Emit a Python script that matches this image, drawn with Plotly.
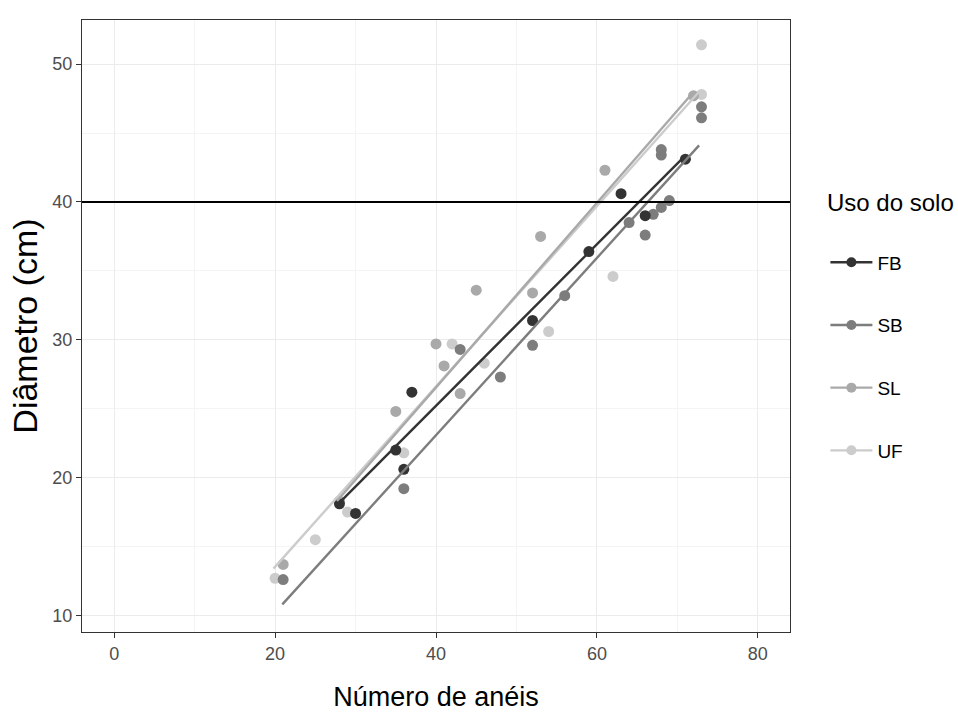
import plotly.graph_objects as go

# ---- data ----
groups = ["FB", "SB", "SL", "UF"]
colors = {"FB": "#333333", "SB": "#7d7d7d", "SL": "#a9a9a9", "UF": "#cccccc"}

fb_x = [28, 30, 35, 36, 37, 52, 59, 63, 66, 71]
fb_y = [18.1, 17.4, 22.0, 20.6, 26.2, 31.4, 36.4, 40.6, 39.0, 43.1]

sb_x = [21, 36, 43, 48, 52, 56, 64, 66, 67, 68, 69, 68, 68, 73, 73]
sb_y = [12.6, 19.2, 29.3, 27.3, 29.6, 33.2, 38.5, 37.6, 39.1, 39.6, 40.1, 43.4, 43.8, 46.9, 46.1]

sl_x = [21, 28, 35, 40, 41, 43, 45, 52, 53, 61, 72]
sl_y = [13.7, 18.3, 24.8, 29.7, 28.1, 26.1, 33.6, 33.4, 37.5, 42.3, 47.7]

uf_x = [20, 25, 29, 36, 42, 46, 54, 62, 73, 73]
uf_y = [12.7, 15.5, 17.5, 21.8, 29.7, 28.3, 30.6, 34.6, 51.4, 47.8]

# fitted-line end points
fb_fit_x = [27.7, 70.7]
fb_fit_y = [18.0, 43.2]
sb_fit_x = [20.9, 72.7]
sb_fit_y = [10.8, 44.1]
sl_fit_x = [27.7, 71.6]
sl_fit_y = [18.3, 47.7]
uf_fit_x = [19.8, 72.7]
uf_fit_y = [13.4, 48.0]

ref_y = 40

x_ticks = [0, 20, 40, 60, 80]
y_ticks = [10, 20, 30, 40, 50]

legend_title = "Uso do solo"
x_title = "Número de anéis"
y_title = "Diâmetro (cm)"

points = {"FB": (fb_x, fb_y), "SB": (sb_x, sb_y), "SL": (sl_x, sl_y), "UF": (uf_x, uf_y)}
fits = {"FB": (fb_fit_x, fb_fit_y), "SB": (sb_fit_x, sb_fit_y),
        "SL": (sl_fit_x, sl_fit_y), "UF": (uf_fit_x, uf_fit_y)}

FONT = "Liberation Sans, Arial, sans-serif"

fig = go.Figure()

for g in ["UF", "SL", "SB", "FB"]:
    x, y = points[g]
    fig.add_trace(go.Scatter(x=x, y=y, mode="markers", showlegend=False,
                             marker=dict(size=11, color=colors[g]), hoverinfo="skip"))
for g in ["UF", "SL", "SB", "FB"]:
    x, y = fits[g]
    fig.add_trace(go.Scatter(x=x, y=y, mode="lines", showlegend=False,
                             line=dict(color=colors[g], width=2.4), hoverinfo="skip"))

# legend entries
for g in groups:
    fig.add_trace(go.Scatter(x=[None], y=[None], mode="lines+markers", name=g,
                             legendgroup=g,
                             line=dict(color=colors[g], width=2.4),
                             marker=dict(size=10, color=colors[g])))

fig.add_hline(y=ref_y, line=dict(color="#000000", width=2))

axis_common = dict(
    showline=True, linecolor="#333333", linewidth=1, mirror=True,
    ticks="outside", ticklen=5, tickwidth=1, tickcolor="#333333",
    gridcolor="#ebebeb", gridwidth=1.2, zeroline=False,
    tickfont=dict(family=FONT, size=18, color="#4d4d4d"),
)

fig.update_xaxes(range=[-4, 84], tickvals=x_ticks,
                 minor=dict(dtick=10, tick0=0, showgrid=True, gridcolor="#f4f4f4", gridwidth=0.8, ticks=""),
                 title=dict(text=x_title, font=dict(family=FONT, size=27, color="#000000"),
                            standoff=24),
                 **axis_common)
fig.update_yaxes(range=[8.8, 53.2], tickvals=y_ticks,
                 minor=dict(dtick=5, tick0=0, showgrid=True, gridcolor="#f4f4f4", gridwidth=0.8, ticks=""),
                 title=dict(text=y_title, font=dict(family=FONT, size=34, color="#000000"),
                            standoff=4),
                 **axis_common)

fig.add_annotation(text=legend_title, xref="paper", yref="paper",
                   x=1.049, y=0.7026, xanchor="left", yanchor="middle", showarrow=False,
                   font=dict(family=FONT, size=24, color="#000000"))

fig.update_layout(
    width=958, height=722,
    margin=dict(l=82, r=168, t=20, b=90),
    paper_bgcolor="white", plot_bgcolor="white",
    legend=dict(
        font=dict(family=FONT, size=19, color="#000000"),
        x=1.05, xanchor="left", y=0.635, yanchor="top",
        tracegroupgap=35, itemwidth=42, bgcolor="rgba(0,0,0,0)",
    ),
)

fig.write_html("out.html")
